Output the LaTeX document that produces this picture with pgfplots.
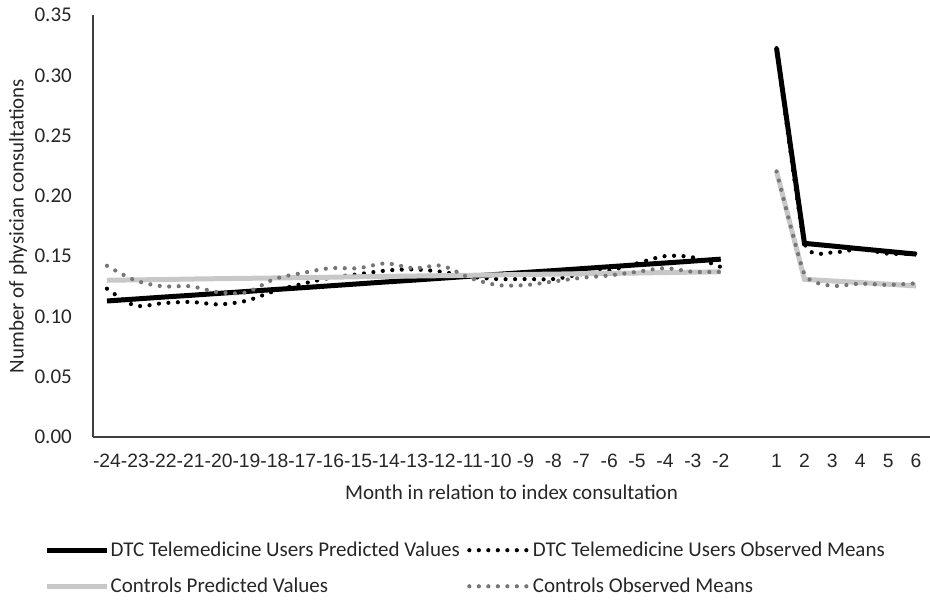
\documentclass[border=0pt]{standalone}
\usepackage{pgfplots}
\usepackage{pgfplotstable}
\pgfplotsset{compat=1.18}
\usepackage{fontspec}
\setmainfont{Carlito}
\newfontfamily\tickfont{Liberation Sans}

\definecolor{axisgray}{RGB}{64,64,64}
\definecolor{textgray}{RGB}{38,38,38}
\definecolor{ctrlpred}{RGB}{200,200,200}
\definecolor{ctrlobs}{RGB}{118,118,118}

% months -24..-2 at positions 0..22
\pgfplotstableread{
idx pred   obs   cpred  cobs
0   0.1128 0.123 0.1300 0.142
1   0.1144 0.109 0.1303 0.130
2   0.1160 0.111 0.1306 0.125
3   0.1175 0.112 0.1310 0.125
4   0.1191 0.110 0.1313 0.120
5   0.1207 0.113 0.1316 0.120
6   0.1223 0.121 0.1319 0.131
7   0.1238 0.127 0.1322 0.136
8   0.1254 0.132 0.1325 0.140
9   0.1270 0.135 0.1329 0.140
10  0.1286 0.138 0.1332 0.144
11  0.1301 0.139 0.1335 0.140
12  0.1317 0.137 0.1338 0.142
13  0.1333 0.133 0.1341 0.132
14  0.1349 0.131 0.1345 0.126
15  0.1365 0.131 0.1348 0.126
16  0.1380 0.131 0.1351 0.129
17  0.1396 0.135 0.1354 0.132
18  0.1412 0.138 0.1357 0.134
19  0.1428 0.144 0.1360 0.137
20  0.1443 0.150 0.1364 0.140
21  0.1459 0.149 0.1367 0.137
22  0.1475 0.141 0.1370 0.137
}\beforeindex

% months 1..6 at positions 24..29
\pgfplotstableread{
idx pred   obs    cpred  cobs
24  0.3225 0.3225 0.2203 0.2203
25  0.1606 0.161  0.1308 0.135
26  0.1584 0.153  0.1294 0.1253
27  0.1561 0.156  0.1281 0.1272
28  0.1539 0.152  0.1267 0.1261
29  0.1517 0.152  0.1253 0.1275
}\afterindex

\begin{document}
\begin{tikzpicture}
\useasboundingbox (0,0) rectangle (930bp,600bp);
\begin{axis}[
  at={(93bp,163bp)}, anchor=south west,
  scale only axis, width=837bp, height=422bp,
  xmin=-0.5, xmax=29.5, ymin=0, ymax=0.35,
  axis x line*=bottom, axis y line*=left,
  axis line style={-, draw=axisgray, line width=1.8bp},
  major tick length=0pt,
  xtick={0,1,2,3,4,5,6,7,8,9,10,11,12,13,14,15,16,17,18,19,20,21,22,24,25,26,27,28,29},
  xticklabels={-24,-23,-22,-21,-20,-19,-18,-17,-16,-15,-14,-13,-12,-11,-10,-9,-8,-7,-6,-5,-4,-3,-2,1,2,3,4,5,6},
  xticklabel style={font=\tickfont\fontsize{19.3bp}{23bp}\selectfont, text=textgray, inner sep=0pt, anchor=north, yshift=-17bp},
  ytick={0,0.05,0.1,0.15,0.2,0.25,0.3,0.35},
  /pgf/number format/fixed, /pgf/number format/fixed zerofill,
  /pgf/number format/precision=2, /pgf/number format/assume math mode=true,
  yticklabel style={font=\fontsize{21bp}{25bp}\selectfont, text=textgray, inner sep=0pt, anchor=east, xshift=-21bp},
  xlabel={Month in relation to index consultation},
  ylabel={Number of physician consultations},
  every axis x label/.style={at={(axis description cs:0.5,-0.1303)}, anchor=center, font=\fontsize{21bp}{25bp}\selectfont, text=textgray},
  every axis y label/.style={at={(axis description cs:-0.0896,0.5)}, rotate=90, anchor=center, font=\fontsize{21bp}{25bp}\selectfont, text=textgray},
  legend columns=2,
  legend cell align=left,
  legend image code/.code={\draw[#1] (0bp,0bp) -- (60bp,0bp);},
  legend style={at={(axis description cs:-0.0585,-0.311)}, anchor=west,
    draw=none, fill=none, inner sep=0pt,
    font=\fontsize{21bp}{25bp}\selectfont, text=textgray,
    nodes={inner sep=1.5bp},
    /tikz/every even column/.append style={column sep=6bp},
    row sep=17bp},
  dotline/.style={line width=4.2bp, line cap=round, dash pattern=on 0bp off 9.5bp, smooth, tension=0.5},
]
\addplot[black, line width=5bp] table[x=idx, y=pred]{\beforeindex};
\addlegendentry{DTC Telemedicine Users Predicted Values}
\addplot[black, dotline] table[x=idx, y=obs]{\beforeindex};
\addlegendentry{DTC Telemedicine Users Observed Means}
\addplot[ctrlpred, line width=5bp] table[x=idx, y=cpred]{\beforeindex};
\addlegendentry{Controls Predicted Values}
\addplot[ctrlobs, dotline] table[x=idx, y=cobs]{\beforeindex};
\addlegendentry{Controls Observed Means}

\addplot[black, line width=5bp, forget plot] table[x=idx, y=pred]{\afterindex};
\addplot[black, dotline, tension=0.3, forget plot] table[x=idx, y=obs]{\afterindex};
\addplot[ctrlpred, line width=5bp, forget plot] table[x=idx, y=cpred]{\afterindex};
\addplot[ctrlobs, dotline, tension=0.3, forget plot] table[x=idx, y=cobs]{\afterindex};
\end{axis}
\end{tikzpicture}
\end{document}
